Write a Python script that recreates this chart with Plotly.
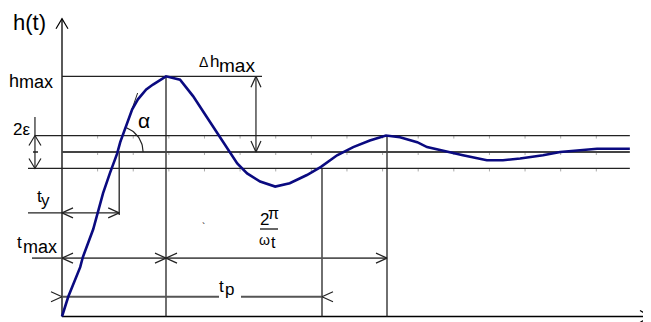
import math
import plotly.graph_objects as go


# step response h(t) (h normalised so that h(inf) = 1)
t_vals = [0.0, 0.12, 0.35, 0.40, 0.60, 0.69, 0.79, 0.92, 1.06, 1.12, 1.23, 1.35, 1.46, 1.62, 1.75, 2.0,
          2.27, 2.52, 2.79, 3.04, 3.19, 3.37, 3.56, 3.81, 4.10, 4.38, 4.71, 4.98, 5.29, 5.60, 5.92, 6.23,
          6.50, 6.83, 7.02, 7.40, 7.71, 8.17, 8.48, 8.81, 9.25, 9.58, 9.96, 10.29, 10.92]
h_vals = [0.0, 0.12, 0.30, 0.36, 0.53, 0.63, 0.75, 0.87, 0.99, 1.06, 1.15, 1.26, 1.32, 1.38, 1.41, 1.46,
          1.44, 1.34, 1.21, 1.09, 1.01, 0.93, 0.87, 0.82, 0.79, 0.81, 0.86, 0.91, 0.98, 1.03, 1.07, 1.10,
          1.09, 1.06, 1.03, 1.00, 0.98, 0.95, 0.95, 0.96, 0.98, 1.00, 1.01, 1.02, 1.02]

# characteristic values
T_Y = 1.10        # rise time
T_MAX = 2.0       # time of first peak
T_P = 5.0         # settling time
T_OSC = 6.25      # t_max + 2pi/omega_t
T_END = 10.92
H_MAX = 1.46
H_INF = 1.0
EPS = 0.1
GRID_STEP = 0.685  # spacing of the small ticks on the level lines

FONT = "Liberation Sans, Arial, sans-serif"
W, H = 651, 322
OFF = 8                      # page margin around the plot div
PX_T, PX_H = 52.0, 164.5     # pixels per unit of t and h
X_RANGE = [-(62 - OFF) / PX_T, -(62 - OFF) / PX_T + W / PX_T]
Y_RANGE = [(316.5 - OFF) / PX_H - H / PX_H, (316.5 - OFF) / PX_H]


def tx(px):
    return X_RANGE[0] + (px - OFF) / PX_T


def hy(py):
    return Y_RANGE[1] - (py - OFF) / PX_H


fig = go.Figure()


def lines(segs, color="#222", width=1.3):
    xs, ys = [], []
    for x0, y0, x1, y1 in segs:
        xs += [x0, x1, None]
        ys += [y0, y1, None]
    fig.add_trace(go.Scatter(x=xs, y=ys, mode="lines", line=dict(color=color, width=width),
                             hoverinfo="skip", showlegend=False))


def chevrons(tips, L=11, w=5, color="#222", width=1.2):
    xs, ys = [], []
    for x, y, d in tips:
        if d in "lr":
            s = -1 if d == "r" else 1
            ax, ay = s * L / PX_T, w / PX_H
            xs += [x + ax, x, x + ax, None]
            ys += [y + ay, y, y - ay, None]
        else:
            s = -1 if d == "u" else 1
            ax, ay = w / PX_T, s * L / PX_H
            xs += [x - ax, x, x + ax, None]
            ys += [y + ay, y, y + ay, None]
    fig.add_trace(go.Scatter(x=xs, y=ys, mode="lines", line=dict(color=color, width=width),
                             hoverinfo="skip", showlegend=False))


def label(px, base, text, size):
    fig.add_annotation(x=tx(px), y=hy(base - 0.3465 * size), text=text, showarrow=False,
                       xanchor="left", yanchor="middle", borderpad=0, borderwidth=0,
                       font=dict(size=size, family=FONT, color="black"))


# dimension line positions
H_TY_DIM = 0.63
H_TMAX_DIM = 0.355
H_TP_DIM = 0.12
T_EPS_DIM = -0.52
T_DH_DIM = 3.73

# axes
lines([(0, 0, 0, 1.81), (0, 0, tx(650), 0)], color="black", width=1.3)
chevrons([(0, 1.81, "u"), (tx(650), 0, "r")], L=10, w=6, color="black")

# small ticks on the three level lines
ticks = []
k = 1
while k * GRID_STEP < T_END:
    for lvl in (H_INF + EPS, H_INF, H_INF - EPS):
        ticks.append((k * GRID_STEP, lvl, k * GRID_STEP, lvl - 3 / PX_H))
    k += 1
lines(ticks, color="#aaa", width=1)

# reference levels
lines([
    (0, H_MAX, tx(262), H_MAX),
    (T_EPS_DIM, H_INF + EPS, T_END, H_INF + EPS),
    (tx(28), H_INF - EPS, T_END, H_INF - EPS),
    (T_MAX, H_MAX, T_MAX, 0),
    (T_OSC, H_INF + EPS, T_OSC, 0),
    (T_P, H_INF - EPS, T_P, 0),
    (T_Y, H_INF, T_Y, hy(215)),
], color="#222", width=1.3)
lines([(0, H_INF, T_END, H_INF), (tx(33), H_INF, tx(38), H_INF)], color="#444", width=1.8)

# dimension lines
lines([
    (tx(28), H_TY_DIM, T_Y, H_TY_DIM),
    (T_EPS_DIM, hy(117), T_EPS_DIM, H_INF - EPS),
    (T_DH_DIM, H_MAX, T_DH_DIM, H_INF),
], color="#222", width=1.2)
lines([
    (tx(32), H_TMAX_DIM, T_OSC, H_TMAX_DIM),
    (0, H_TP_DIM, tx(219), H_TP_DIM),
    (tx(241), H_TP_DIM, T_P, H_TP_DIM),
    (tx(260), hy(229), tx(278), hy(229)),
], color="#555", width=1.8)
chevrons([
    (0, H_TY_DIM, "l"), (T_Y, H_TY_DIM, "r"),
    (0, H_TMAX_DIM, "l"), (T_MAX, H_TMAX_DIM, "r"), (T_MAX, H_TMAX_DIM, "l"), (T_OSC, H_TMAX_DIM, "r"),
    (0, H_TP_DIM, "r"), (T_P, H_TP_DIM, "l"),
    (T_DH_DIM, H_MAX, "u"), (T_DH_DIM, H_INF, "d"),
])
chevrons([(T_EPS_DIM, H_INF + EPS, "u"), (T_EPS_DIM, H_INF - EPS, "d")], L=10, w=6)

# tangent at the inflection and the angle alpha
T_TAN = 1.06
lines([(T_TAN, H_INF, T_TAN + 20.5 / PX_T, H_INF + 59 / PX_H)], color="#222", width=1)
arc = [math.radians(a) for a in range(0, 72, 3)]
fig.add_trace(go.Scatter(x=[T_TAN + 26 * math.cos(a) / PX_T for a in arc],
                         y=[H_INF + 26 * math.sin(a) / PX_H for a in arc],
                         mode="lines", line=dict(color="#222", width=1.2),
                         hoverinfo="skip", showlegend=False))

# response curve
fig.add_trace(go.Scatter(x=t_vals, y=h_vals, mode="lines", line=dict(color="#0a0a80", width=2.6),
                         hoverinfo="skip", showlegend=False))

# labels
label(13, 30, "h(t)", 22)
label(9, 87, "h", 18)
label(19, 88, "max", 18)
label(13, 135, "2ε", 17)
label(37, 202, "t", 17)
label(41, 206, "y", 17)
label(17, 248, "t", 17)
label(22.5, 253, "max", 18)
label(199, 67, "Δ", 14)
label(210, 67, "h", 17)
label(219, 72, "max", 19)
label(138, 128, "α", 21)
label(260, 225, "2", 17)
label(268, 219, "π", 16)
label(259, 245, "ω", 14)
label(270.5, 248, "t", 16)
label(219, 292, "t", 17)
label(225, 295, "p", 17)
label(647, 310, "t", 20)
label(202, 231, "`", 10)

fig.update_layout(
    width=W, height=H,
    margin=dict(l=0, r=0, t=0, b=0),
    paper_bgcolor="white", plot_bgcolor="white",
    xaxis=dict(range=X_RANGE, visible=False, fixedrange=True),
    yaxis=dict(range=Y_RANGE, visible=False, fixedrange=True),
    showlegend=False,
    font=dict(family=FONT),
)

fig.write_html("out.html")
